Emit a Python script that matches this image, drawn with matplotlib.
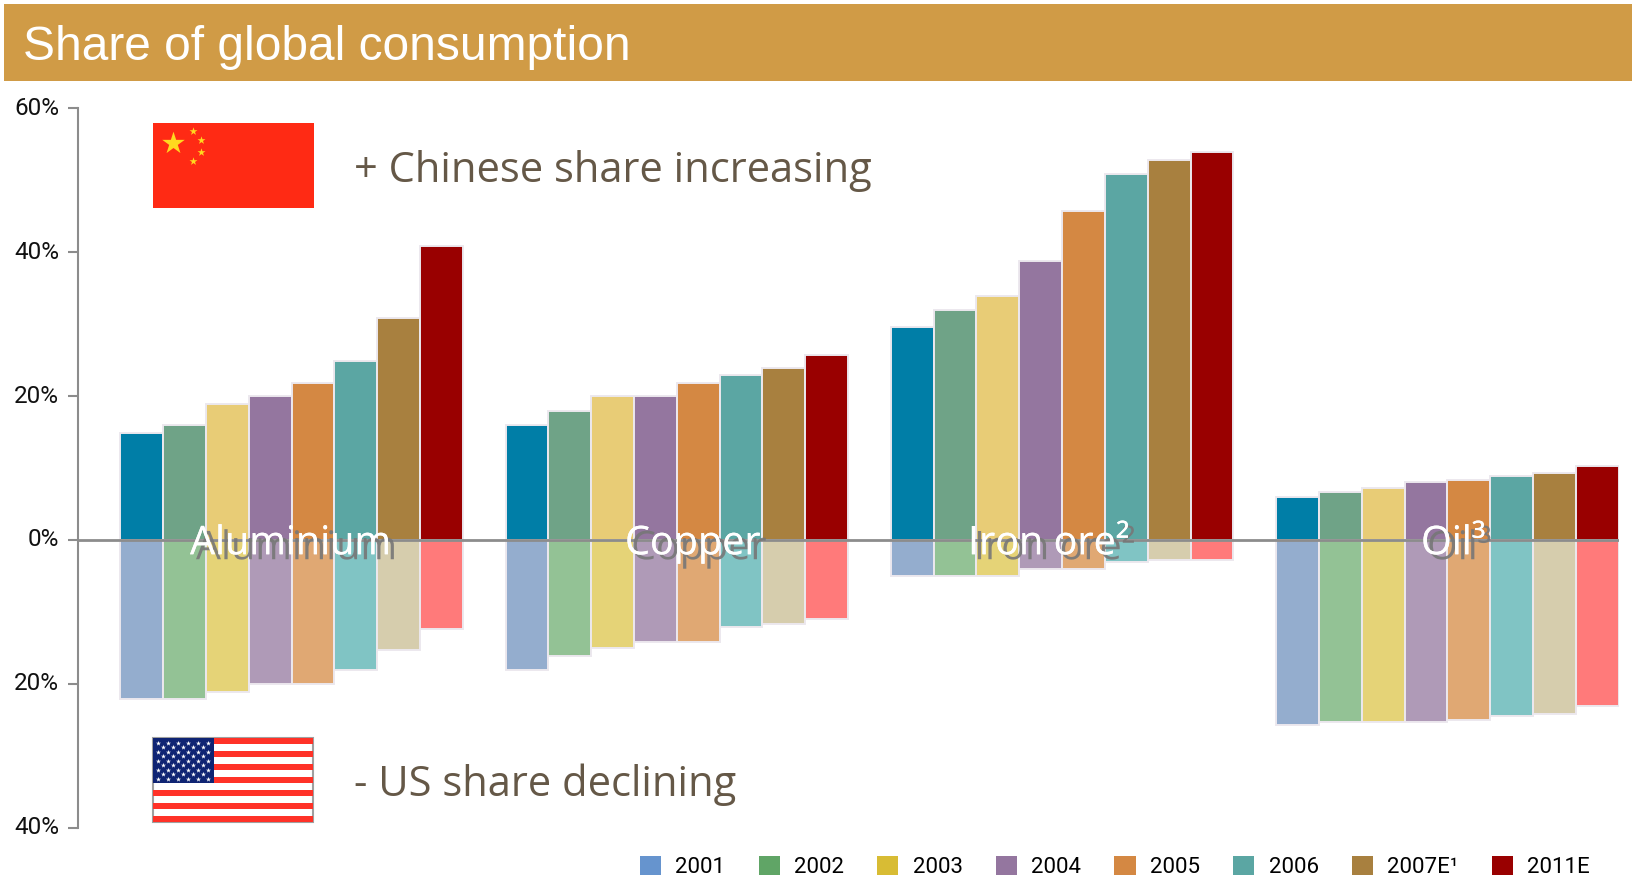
import matplotlib
matplotlib.use('Agg')
import matplotlib.pyplot as plt
import matplotlib.patheffects as pe
from matplotlib.patches import Rectangle, Patch
from matplotlib.transforms import ScaledTranslation

W, H = 1633, 880

years = ['2001', '2002', '2003', '2004', '2005', '2006', '2007E¹', '2011E']
commodities = ['Aluminium', 'Copper', 'Iron ore²', 'Oil³']

china_share = [[14.9, 16, 18.9, 20, 21.9, 24.9, 30.9, 40.9],
               [16, 18, 20, 20, 21.9, 23, 23.9, 25.7],
               [29.7, 32, 34, 38.8, 45.8, 50.9, 52.8, 54],
               [6, 6.7, 7.3, 8.1, 8.3, 8.9, 9.3, 10.3]]
us_share = [[22.1, 22.1, 21.1, 20, 20, 18, 15.3, 12.4],
            [18, 16.1, 15, 14.1, 14.1, 12.1, 11.6, 11],
            [5, 5, 5, 4, 4, 3, 2.8, 2.8],
            [25.7, 25.3, 25.3, 25.3, 25, 24.4, 24.1, 23]]

china_colors = ['#007EA7', '#6FA387', '#E8CC76', '#94769F', '#D48843', '#5BA6A3', '#A8803F', '#990000']
us_colors = ['#94ADCE', '#93C295', '#E5D377', '#AF9AB7', '#E0A873', '#80C4C4', '#D6CDAD', '#FF7A7A']
legend_colors = ['#6694CE', '#60A566', '#D8BC34', '#94769F', '#D48843', '#5BA6A3', '#A8803F', '#990000']

yticks = [-40, -20, 0, 20, 40, 60]
ytick_labels = ['40%', '20%', '0%', '20%', '40%', '60%']

small_font = 'Roboto'
brown = '#655847'

fig = plt.figure(figsize=(W / 100, H / 100), dpi=100)
ax = fig.add_axes([78 / W, 1 - 828 / H, (1619 - 78) / W, (828 - 108.5) / H])

# bars: 8 per group, one empty slot between groups
for g in range(len(commodities)):
    for i in range(len(years)):
        x = g * 9 + i
        ax.bar(x, china_share[g][i], width=1, color=china_colors[i], edgecolor='#ECE8EE', linewidth=1.4)
        ax.bar(x, -us_share[g][i], width=1, color=us_colors[i], edgecolor='#ECE8EE', linewidth=1.4)

ax.set_xlim(-1.49, 34.51)
ax.set_ylim(-40, 60)
ax.axhline(0, color='#8C8C8C', linewidth=2)
ax.set_xticks([])
ax.set_yticks(yticks)
ax.set_yticklabels(ytick_labels, family=small_font, fontsize=17.5, color='#111111')
ax.tick_params(axis='y', length=7, width=1.5, color='#8C8C8C', pad=6.5)
# labels sit a little above their ticks in the original
for lab in ax.get_yticklabels():
    lab.set_transform(lab.get_transform() + ScaledTranslation(0, 2 / 72, fig.dpi_scale_trans))
for s in ['top', 'right', 'bottom']:
    ax.spines[s].set_visible(False)
ax.spines['left'].set_color('#8C8C8C')
ax.spines['left'].set_linewidth(1.5)

# overlay in pixel coordinates for header, flags and labels
ov = fig.add_axes([0, 0, 1, 1])
ov.set_xlim(0, W)
ov.set_ylim(H, 0)
ov.axis('off')

ov.add_patch(Rectangle((4, 4), W - 4, 77, color='#D09B46', linewidth=0))
ov.text(23, 48, 'Share of global consumption', color='white', fontsize=34.5,
        family='Liberation Sans', va='center', ha='left')

# China flag
ov.add_patch(Rectangle((153, 123), 161, 85, color='#FF2A14', linewidth=0))
ov.scatter([173], [143], marker='*', s=290, color='#FFD91F', linewidths=0)
ov.scatter([193, 201, 201, 193], [131, 140, 152, 161], marker='*', s=36, color='#FFD91F', linewidths=0)

# US flag
fx, fy, fw, fh = 153, 738, 160, 84
stripe = fh / 13
ov.add_patch(Rectangle((fx, fy), fw, fh, facecolor='white', edgecolor='#A0A0A0', linewidth=1.5))
for k in range(0, 13, 2):
    ov.add_patch(Rectangle((fx, fy + k * stripe), fw, stripe, color='#FF3228', linewidth=0))
ov.add_patch(Rectangle((fx, fy), 61, 7 * stripe, color='#0F2473', linewidth=0))
for row in range(9):
    n = 6 if row % 2 == 0 else 5
    for c in range(n):
        ov.scatter(fx + 5 + c * 10 + (row % 2) * 5, fy + 4.7 + row * 4.5, marker='*', s=14,
                   color='white', linewidths=0)

ov.text(354, 171, '+ Chinese share increasing', color=brown, fontsize=30, family='Open Sans',
        va='center', ha='left')
ov.text(354, 785, '- US share declining', color=brown, fontsize=30, family='Open Sans',
        va='center', ha='left')

# commodity names with drop shadow
label_left = [190, 625, 968, 1421]
for name, lx in zip(commodities, label_left):
    ov.text(lx, 544, name, color='white', fontsize=28.5, family='Open Sans', va='center', ha='left',
            path_effects=[pe.withSimplePatchShadow(offset=(4.3, -3.6), shadow_rgbFace='#777777', alpha=0.9),
                          pe.Normal()])

handles = [Patch(facecolor=c, edgecolor='none') for c in legend_colors]
fig.legend(handles, years, ncol=8, frameon=False, loc='center right',
           bbox_to_anchor=(1590 / W, 1 - 867 / H), borderaxespad=0, borderpad=0,
           prop={'family': small_font, 'size': 16}, handlelength=0.95, handleheight=0.9,
           handletextpad=0.65, columnspacing=1.49)

fig.savefig('out.png', dpi=100)
